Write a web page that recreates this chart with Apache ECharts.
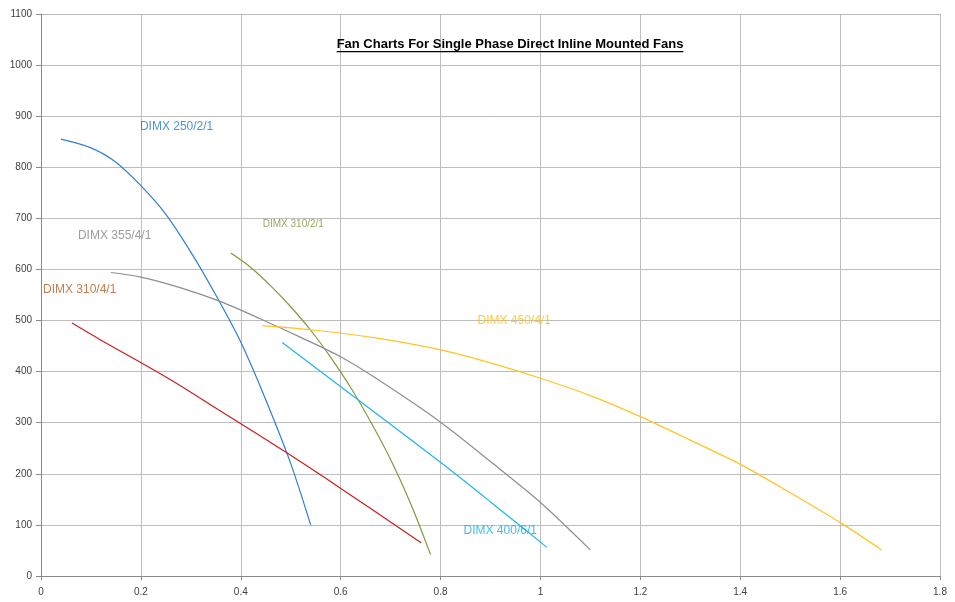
<!DOCTYPE html>
<html>
<head>
<meta charset="utf-8">
<script src="https://cdn.jsdelivr.net/npm/echarts@6/dist/echarts.min.js"></script>
<style>html,body{margin:0;padding:0;background:#fff}#c{width:955px;height:602px}</style>
</head>
<body>
<div id="c"></div>
<script>
// ---- data ----
const xTicks = [0, 0.2, 0.4, 0.6, 0.8, 1, 1.2, 1.4, 1.6, 1.8];
const yTicks = [0, 100, 200, 300, 400, 500, 600, 700, 800, 900, 1000, 1100];

const dimx250_2_1 = [[0.04,855],[0.1,838],[0.15,810],[0.2,764],[0.25,708],[0.3,634],[0.35,550],[0.4,458],[0.45,345],[0.5,220],[0.54,100]];
const dimx310_2_1 = [[0.38,632],[0.42,604],[0.46,568],[0.5,527],[0.54,481],[0.58,428],[0.62,369],[0.66,302],[0.7,228],[0.74,142],[0.78,42]];
const dimx355_4_1 = [[0.14,594],[0.2,585],[0.28,564],[0.36,537],[0.44,503],[0.52,467],[0.6,429],[0.68,381],[0.8,301],[0.9,224],[1.0,144],[1.1,51]];
const dimx310_4_1 = [[0.062,495],[0.116,464],[0.256,386],[0.356,325],[0.489,243],[0.601,171],[0.761,65]];
const dimx400_6_1 = [[0.483,457],[0.636,344],[0.803,220],[0.9,145],[1.013,56]];
const dimx450_4_1 = [[0.443,490],[0.55,481],[0.676,465],[0.803,442],[0.9,417],[1.003,386],[1.1,353],[1.2,312],[1.3,266],[1.403,217],[1.5,163],[1.603,103],[1.683,51]];

const seriesNames = ['DIMX 250/2/1','DIMX 310/2/1','DIMX 355/4/1','DIMX 310/4/1','DIMX 400/6/1','DIMX 450/4/1'];
const labelAnchors = [[0.198,879],[0.444,689],[0.074,667],[0.004,560],[0.846,88],[0.874,499]];
const titleText = 'Fan Charts For Single Phase Direct Inline Mounted Fans';

// ---- styles ----
const lineColors = ['#2E7ED3','#7E9B3C','#8E8E8E','#C81E1E','#1EB4EC','#FFC322'];
const labelColors = ['#2079D0','#779536','#858585','#B35A22','#12AEEA','#FFC000'];
const labelSizes = [12,10,12,12,12,12];
const dataSets = [dimx250_2_1, dimx310_2_1, dimx355_4_1, dimx310_4_1, dimx400_6_1, dimx450_4_1];
const FONT = 'Liberation Sans';

const series = [];
dataSets.forEach((d, i) => {
  series.push({
    name: seriesNames[i], type: 'line', data: d, smooth: 0.3, showSymbol: false, symbol: 'none',
    lineStyle: { color: lineColors[i], width: 1.2 }, silent: true, z: 3
  });
});
seriesNames.forEach((n, i) => {
  series.push({
    name: n + ' label', type: 'scatter', data: [labelAnchors[i]], symbolSize: 0, silent: true, z: 4,
    label: { show: true, position: [0, 0], align: 'left', verticalAlign: 'middle',
      formatter: n, color: labelColors[i], fontSize: labelSizes[i], fontFamily: FONT }
  });
});

const chart = echarts.init(document.getElementById('c'), null, { renderer: 'canvas' });

// measure title for underline
const TFONT = 'bold 13px "' + FONT + '"';
const cv = document.createElement('canvas').getContext('2d');
cv.font = TFONT;
const tw = cv.measureText(titleText).width;
const tcx = 510, tcy = 44;

chart.setOption({
  animation: false,
  backgroundColor: '#fff',
  grid: { left: 41, right: 15, top: 14, bottom: 26, containLabel: false },
  xAxis: {
    type: 'value', min: 0, max: 1.8, interval: 0.2,
    axisLine: { show: true, lineStyle: { color: '#8A8A8A', width: 1 } },
    axisTick: { show: true, length: 4, lineStyle: { color: '#8A8A8A' } },
    axisLabel: { color: '#404040', fontSize: 10, fontFamily: FONT, margin: 11,
      formatter: v => { const t = xTicks.find(x => Math.abs(x - v) < 1e-6); return t === undefined ? '' : String(t); } },
    splitLine: { show: true, lineStyle: { color: '#BDBDBD', width: 1 } }
  },
  yAxis: {
    type: 'value', min: 0, max: 1100, interval: 100,
    axisLine: { show: true, lineStyle: { color: '#8A8A8A', width: 1 } },
    axisTick: { show: true, length: 5, lineStyle: { color: '#8A8A8A' } },
    axisLabel: { color: '#404040', fontSize: 10, fontFamily: FONT, margin: 9,
      formatter: v => { const t = yTicks.find(y => Math.abs(y - v) < 1e-6); return t === undefined ? '' : String(t); } },
    splitLine: { show: true, lineStyle: { color: '#BDBDBD', width: 1 } }
  },
  graphic: [
    { type: 'text', x: tcx, y: tcy, z: 10,
      style: { text: titleText, font: TFONT, fill: '#000', align: 'center', verticalAlign: 'middle' } },
    { type: 'rect', x: tcx - tw / 2, y: tcy + 7, z: 10, shape: { width: tw, height: 1.2 }, style: { fill: '#000' } }
  ],
  series: series
});
</script>
</body>
</html>
